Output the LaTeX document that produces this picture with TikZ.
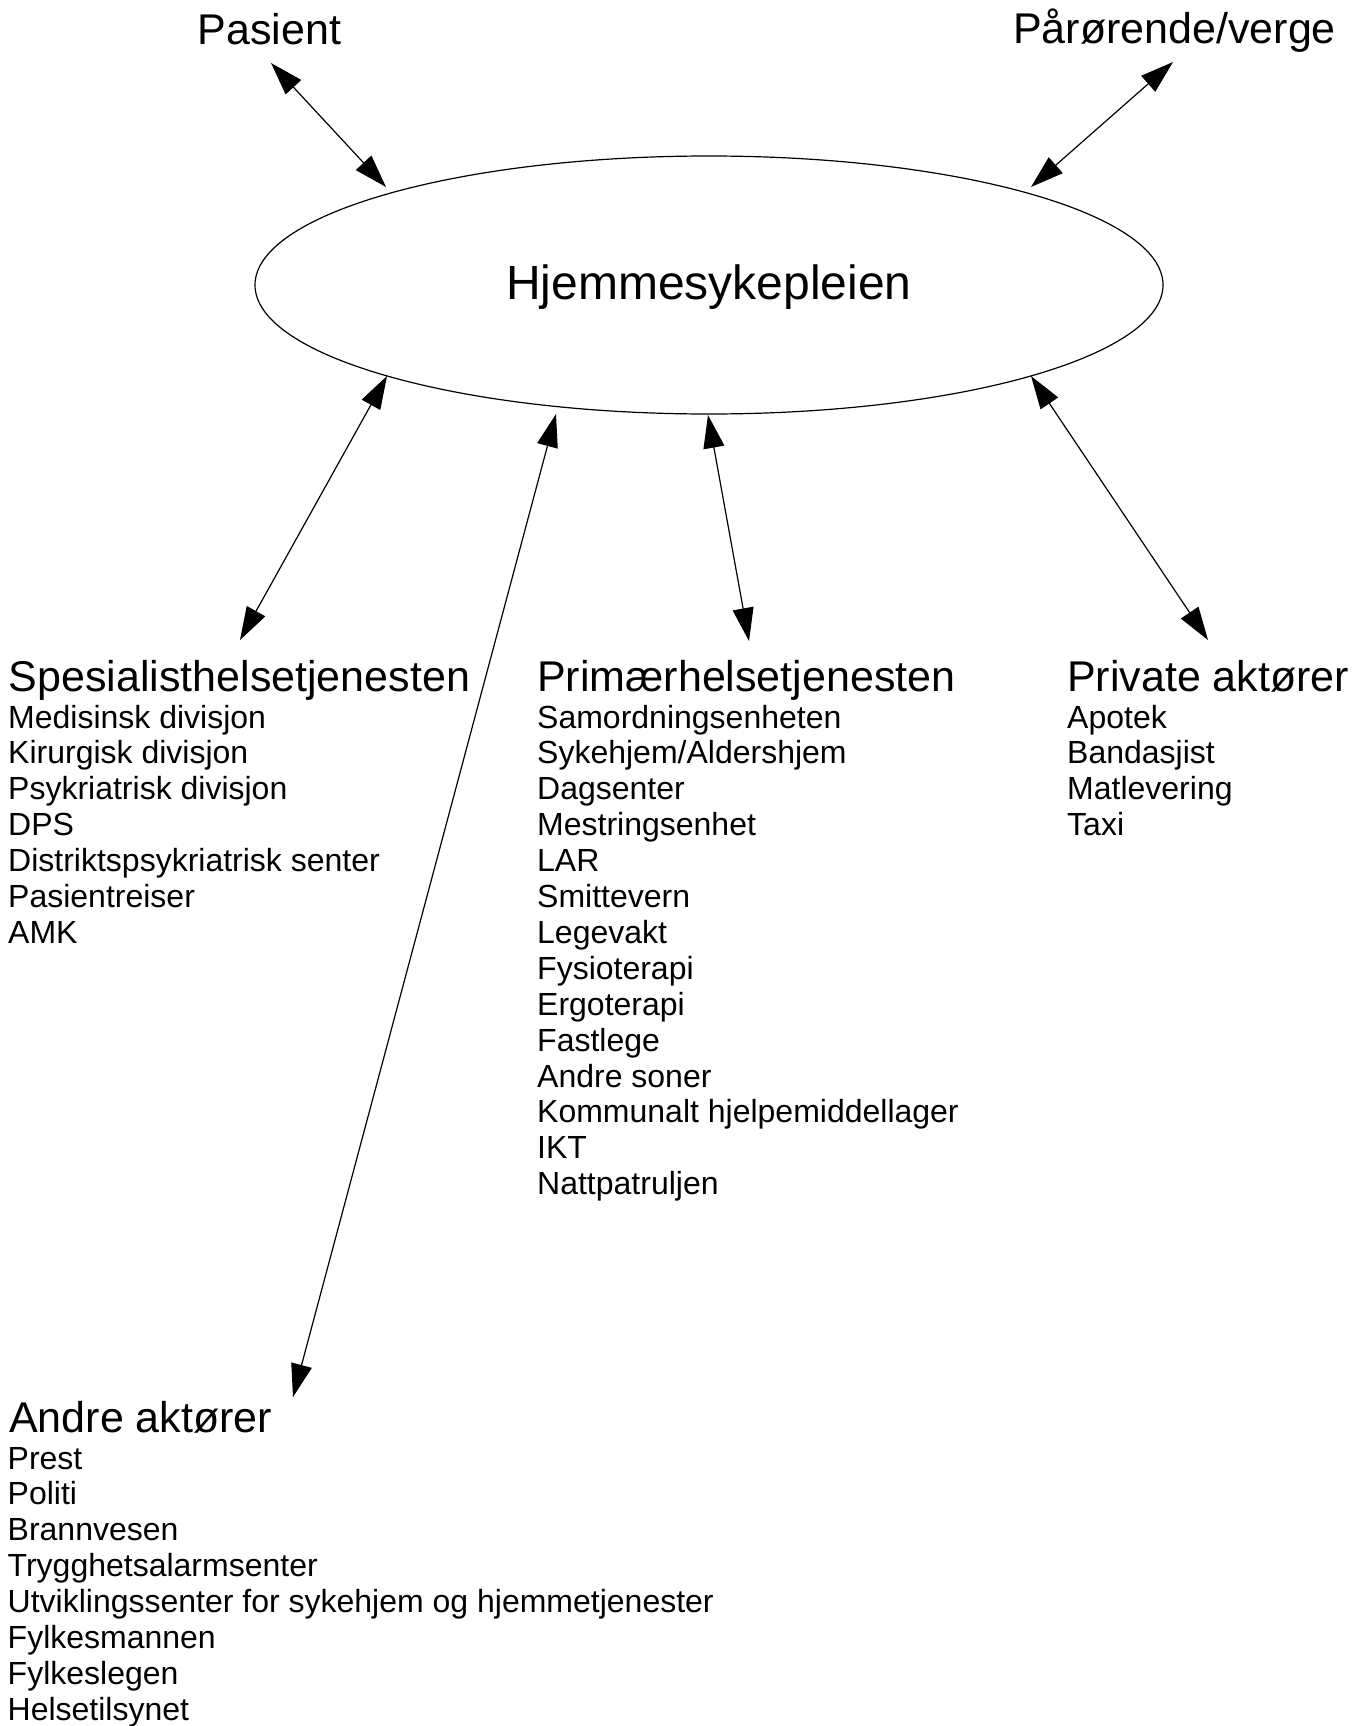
\documentclass[tikz,border=0pt]{standalone}
\usepackage{fontspec}
\setmainfont{Liberation Sans}
\usetikzlibrary{arrows.meta,shapes.geometric}
\begin{document}
\begin{tikzpicture}[x=1pt,y=-1pt,
  tri/.tip={Triangle[length=33pt,width=21pt]},
  link/.style={line width=1.2pt,tri-tri},
  headtext/.style={anchor=base west,inner sep=0pt,font=\fontsize{43}{48}\selectfont},
  itemtext/.style={anchor=base west,inner sep=0pt,font=\fontsize{32}{36}\selectfont},
]
\useasboundingbox (0,0) rectangle (1362,1726);
\fill[white] (0,0) rectangle (1362,1726);

% central ellipse
\node[draw,ellipse,line width=1.2pt,minimum width=908pt,minimum height=258pt,inner sep=0pt] (hjem) at (709,285) {};
\node[anchor=base,inner sep=0pt,font=\fontsize{48}{56}\selectfont] (hjemlabel) at (709,299) {Hjemmesykepleien};

% top actors
\node[headtext] (pasient) at (197.5,45) {Pasient};
\node[headtext] (paaror) at (1013,44) {Pårørende/verge};

% column headings
\node[headtext] (spes) at (8.5,691) {Spesialisthelsetjenesten};
\node[headtext] (prim) at (537,691) {Primærhelsetjenesten};
\node[headtext] (priv) at (1067,691) {Private aktører};
\node[headtext] (andre) at (9,1432) {Andre aktører};

% column lists
\foreach \t [count=\i from 0] in {Medisinsk divisjon,Kirurgisk divisjon,Psykriatrisk divisjon,DPS,Distriktspsykriatrisk senter,Pasientreiser,AMK}
  \node[itemtext] (spes-\i) at (8,728+35.9*\i) {\t};
\foreach \t [count=\i from 0] in {Samordningsenheten,Sykehjem/Aldershjem,Dagsenter,Mestringsenhet,LAR,Smittevern,Legevakt,Fysioterapi,Ergoterapi,Fastlege,Andre soner,Kommunalt hjelpemiddellager,IKT,Nattpatruljen}
  \node[itemtext] (prim-\i) at (537,728+35.9*\i) {\t};
\foreach \t [count=\i from 0] in {Apotek,Bandasjist,Matlevering,Taxi}
  \node[itemtext] (priv-\i) at (1067,728+35.9*\i) {\t};
\foreach \t [count=\i from 0] in {Prest,Politi,Brannvesen,Trygghetsalarmsenter,Utviklingssenter for sykehjem og hjemmetjenester,Fylkesmannen,Fylkeslegen,Helsetilsynet}
  \node[itemtext] (andre-\i) at (7.5,1469+35.9*\i) {\t};

% connector ends
\coordinate (pasient-end) at (271,63);
\coordinate (hjem-pasient) at (386,187);
\coordinate (paaror-end) at (1173,62);
\coordinate (hjem-paaror) at (1031,187);
\coordinate (hjem-spes) at (387,376);
\coordinate (spes-end) at (240,640);
\coordinate (hjem-andre) at (556,414);
\coordinate (andre-end) at (293,1397);
\coordinate (hjem-prim) at (708,415);
\coordinate (prim-end) at (749,641);
\coordinate (hjem-priv) at (1031,376);
\coordinate (priv-end) at (1208,640);

% connectors
\draw[link] (pasient-end) -- (hjem-pasient);
\draw[link] (paaror-end) -- (hjem-paaror);
\draw[link] (hjem-spes) -- (spes-end);
\draw[link] (hjem-andre) -- (andre-end);
\draw[link] (hjem-prim) -- (prim-end);
\draw[link] (hjem-priv) -- (priv-end);
\end{tikzpicture}
\end{document}
